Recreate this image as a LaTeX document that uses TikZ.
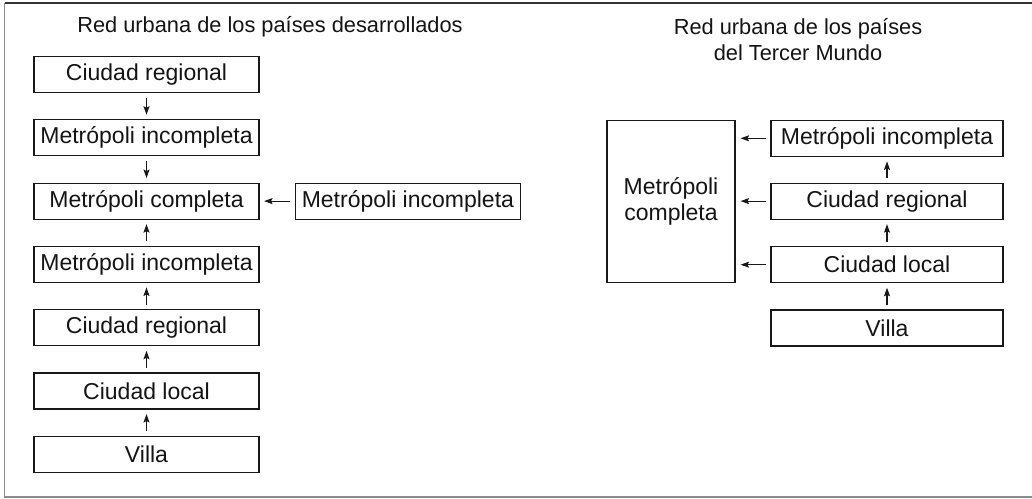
\documentclass[tikz,border=0pt]{standalone}
\usepackage{fontspec}
\setmainfont{Liberation Sans}
\usetikzlibrary{arrows.meta}
\begin{document}
\begin{tikzpicture}[x=1pt,y=-1pt,
  box/.style={draw=black!90,line width=1.1pt,minimum height=36pt,inner sep=0pt,
    font=\fontsize{23}{27}\selectfont,text=black!92},
  colbox/.style={box,minimum width=225pt},
  rcolbox/.style={box,minimum width=232pt},
  title/.style={font=\fontsize{21.8}{26}\selectfont,text=black!92,align=center,inner sep=0pt},
  link/.style={line width=1.1pt,draw=black!90,
    -{Stealth[length=8.5pt,width=6pt,inset=1.5pt]},shorten <=4.5pt,shorten >=4.5pt}]
\useasboundingbox (0,0) rectangle (1032,498);
% frame around the figure
\draw[black!80,line width=1.2pt] (4.5,3) -- (1032,3);
\draw[black!45,line width=1.2pt] (4.5,3) -- (4.5,497) -- (1032,497);

% developed countries
\node[title] (tl) at (270,27) {Red urbana de los países desarrollados};
\node[colbox] (a1) at (146.5,74.5) {Ciudad regional};
\node[colbox] (a2) at (146.5,137.8) {Metrópoli incompleta};
\node[colbox] (a3) at (146.5,201.1) {Metrópoli completa};
\node[colbox] (a4) at (146.5,264.4) {Metrópoli incompleta};
\node[colbox] (a5) at (146.5,327.7) {Ciudad regional};
\node[colbox] (a6) at (146.5,391) {Ciudad local};
\node[colbox] (a7) at (146.5,454.3) {Villa};
\node[colbox,minimum width=225.7pt] (a8) at (407.9,201.1) {Metrópoli incompleta};

\draw[link] (a1) -- (a2);
\draw[link] (a2) -- (a3);
\draw[link] (a4) -- (a3);
\draw[link] (a5) -- (a4);
\draw[link] (a6) -- (a5);
\draw[link] (a7) -- (a6);
\draw[link] (a8) -- (a3);

% third world countries
\node[title] (tr) at (798,40) {Red urbana de los países\\del Tercer Mundo};
\node[box,minimum width=128pt,minimum height=162pt,align=center,
  font=\fontsize{23}{26}\selectfont] (m) at (671,201.7) {Metrópoli\\completa};
\node[rcolbox] (b1) at (887,138.3) {Metrópoli incompleta};
\node[rcolbox] (b2) at (887,201.1) {Ciudad regional};
\node[rcolbox] (b3) at (887,264.7) {Ciudad local};
\node[rcolbox] (b4) at (887,328) {Villa};

\draw[link] (b4) -- (b3);
\draw[link] (b3) -- (b2);
\draw[link] (b2) -- (b1);
\draw[link,shorten <=4pt,shorten >=5pt] (b1.west) -- (b1.west -| m.east);
\draw[link,shorten <=4pt,shorten >=5pt] (b2.west) -- (b2.west -| m.east);
\draw[link,shorten <=4pt,shorten >=5pt] (b3.west) -- (b3.west -| m.east);
\end{tikzpicture}
\end{document}
